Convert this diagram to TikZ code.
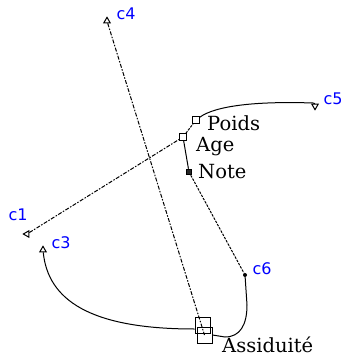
\documentclass[tikz,border=0pt]{standalone}
\usepackage{fontspec}
\setmainfont{DejaVu Serif}
\newfontfamily\lblfont{DejaVu Sans}
\usetikzlibrary{shapes.geometric}
\begin{document}
\begin{tikzpicture}[x=1pt,y=-1pt,
 sq/.style={draw,line width=1pt,minimum size=6.5pt,inner sep=0pt,fill=white},
 tri/.style={draw,fill=white,isosceles triangle,isosceles triangle apex angle=60,inner sep=0pt,minimum size=5.5pt,line width=1pt},
 clbl/.style={text=blue,font=\lblfont\fontsize{16}{16}\selectfont,inner sep=0pt},
 vlbl/.style={font=\fontsize{19.5}{19.5}\selectfont,inner sep=0pt,anchor=base west},
 ln/.style={line width=1pt},
 dashdot/.style={ln,dash pattern=on 4pt off 1.5pt on 1.5pt off 1.5pt},
 dsh/.style={ln,dash pattern=on 2.5pt off 1.2pt},
 boxsty/.style={draw,line width=1pt,minimum width=15pt,minimum height=16pt,inner sep=0pt}
]
\useasboundingbox (0,0) rectangle (345,356);
% value markers
\node[sq] (poids) at (196,120) {};
\node[sq] (age) at (183,137) {};
\node[sq,fill=black!85,minimum size=5.5pt] (note) at (189,172) {};
\node[boxsty] (assid) at (202.5,325) {};
\node[boxsty] (assidb) at (204.5,335) {};
% c markers
\node[tri,shape border rotate=107] (c4) at (107,21) {};
\node[tri,shape border rotate=212] (c1) at (27,234) {};
\node[tri,shape border rotate=95] (c3) at (43,250) {};
\node[tri,shape border rotate=270] (c5) at (315,106) {};
\node[circle,fill,inner sep=0pt,minimum size=4pt] (c6) at (245,275) {};
% labels
\node[clbl] (lc4) at (126,14) {c4};
\node[clbl] (lc5) at (333,99) {c5};
\node[clbl] (lc1) at (18,215) {c1};
\node[clbl] (lc3) at (61,243) {c3};
\node[clbl] (lc6) at (262,269) {c6};
\node[vlbl] (lpoids) at (207,130) {Poids};
\node[vlbl] (lage) at (196,151) {Age};
\node[vlbl] (lnote) at (198,178) {Note};
\node[vlbl] (lassid) at (222,352) {Assiduité};
% connectors
\draw[dashdot] (c4) -- (assidb.center);
\draw[dashdot] (c1) -- (age);
\draw[dsh] (age) -- (poids);
\draw[ln] (poids) .. controls (215,106) and (255,101) .. (313,103) -- (c5.north);
\draw[ln] (age) -- (note);
\draw[dsh] (note) -- (c6);
\draw[ln] (c6) -- (247,305) .. controls (247,325) and (240,337) .. (225,337) -- (assidb.east);
\draw[ln] (c3) .. controls (48,300) and (90,329) .. ([yshift=-4pt]assid.west);
\end{tikzpicture}
\end{document}
